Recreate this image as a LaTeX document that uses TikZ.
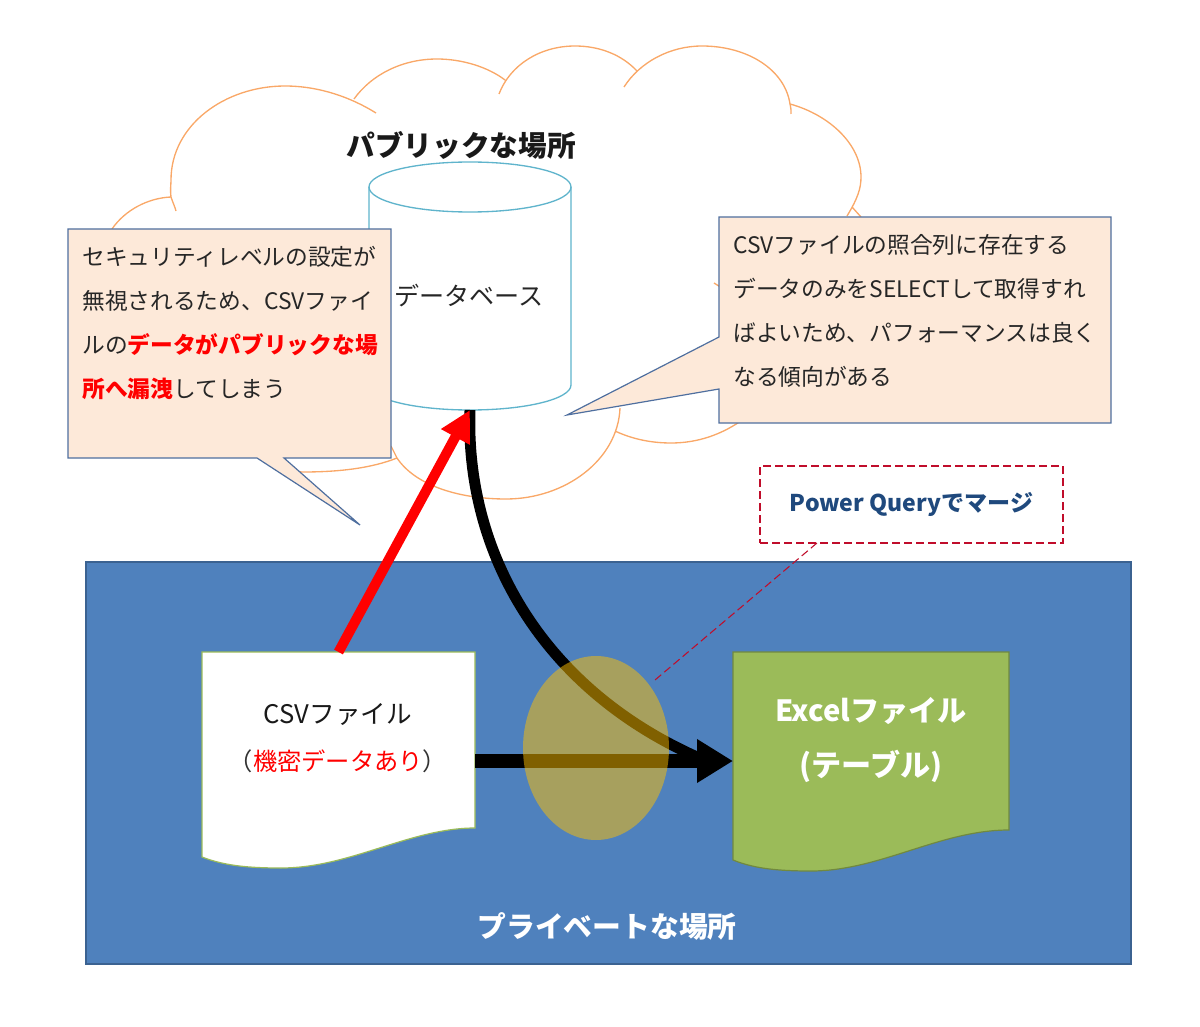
\documentclass[tikz,border=0pt]{standalone}
\usepackage{fontspec}
\setmainfont{Noto Sans CJK JP}
\usetikzlibrary{arrows.meta,shapes.geometric,calc}
\definecolor{cloudc}{HTML}{F9A868}
\definecolor{cylc}{HTML}{5FB4CC}
\definecolor{callfill}{HTML}{FDE9D9}
\definecolor{calledge}{HTML}{4F6F9F}
\definecolor{privblue}{HTML}{4F81BD}
\definecolor{privedge}{HTML}{3B6291}
\definecolor{greenf}{HTML}{9BBB59}
\definecolor{greene}{HTML}{71893F}
\definecolor{navy}{HTML}{1F497D}
\definecolor{pqred}{HTML}{C00D2B}
\definecolor{mergec}{HTML}{FFC000}
\tikzset{
  anchorbox/.style={inner sep=0pt,outer sep=0pt,rectangle},
  cloudline/.style={draw=cloudc,line width=1pt},
  callout/.style={fill=callfill,draw=calledge,line width=0.9pt,line join=miter},
  calltext/.style={align=left,inner sep=0pt,text=black!85,font=\fontsize{17.05}{33}\selectfont},
  heavy/.style={draw=black,line width=10.5pt},
  redflow/.style={draw=red,line width=7.5pt,-{Triangle[length=23pt,width=23pt]}},
  blackflow/.style={draw=black,line width=8.2pt},
  pqdash/.style={draw=pqred,dash pattern=on 6pt off 3pt,line width=0.8pt},
}
\begin{document}
\begin{tikzpicture}[x=0.75pt,y=-0.75pt]
\useasboundingbox (0,0) rectangle (1200,1027);
% cloud
\draw[cloudline]
 (112,229) .. controls (125,210) and (148,198) .. (171,197) .. controls (173,203) and (175,207) .. (176,211)
 (171,197) .. controls (170,190) and (171,185) .. (171,180) .. controls (171,125) and (225,86) .. (285,86) .. controls (320,86) and (352,98) .. (376,113)
 (354,99) .. controls (372,74) and (403,59) .. (437,59) .. controls (462,59) and (488,67) .. (505,80)
 (499,94) .. controls (510,65) and (540,46) .. (575,46) .. controls (600,46) and (622,55) .. (637,71)
 (624,87) .. controls (640,62) and (670,46) .. (702,46) .. controls (748,46) and (785,70) .. (790,104) .. controls (791,107) and (791,110) .. (791,114)
 (790,104) .. controls (830,115) and (861,145) .. (861,177) .. controls (861,188) and (858,198) .. (847,216)
 (852,207) -- (861,217)
 (714,283) -- (722,288)
 (745,418) .. controls (722,435) and (697,443) .. (671,443) .. controls (651,443) and (632,439) .. (615,431)
 (620,408) .. controls (618,460) and (565,499) .. (506,499) .. controls (458,499) and (415,485) .. (397,458) .. controls (395,454) and (393,450) .. (391,446)
 (280,468) .. controls (290,471) and (297,472) .. (303,472) .. controls (340,472) and (372,468) .. (397,458);
% database cylinder
\draw[draw=cylc,fill=white,line width=1pt]
 (369,187) -- (369,385) .. controls (369,399) and (414,410) .. (470,410) .. controls (526,410) and (571,399) .. (571,385) -- (571,187)
 .. controls (571,173) and (526,162) .. (470,162) .. controls (414,162) and (369,173) .. (369,187) -- cycle;
\draw[draw=cylc,line width=1pt]
 (369,187) .. controls (369,201) and (414,212) .. (470,212) .. controls (526,212) and (571,201) .. (571,187);
\node[anchorbox,minimum width=151.5pt,minimum height=186pt] (db) at (470,286) {};
\node[inner sep=0pt,font=\fontsize{18.8}{22}\selectfont,text=black!85] (dblabel) at (469,296) {データベース};
\node[inner sep=0pt,font=\bfseries\fontsize{21.5}{26}\selectfont,text=black!90] (pubtitle) at (461,145) {パブリックな場所};
% private area
\node[anchorbox,fill=privblue,draw=privedge,line width=0.9pt,minimum width=783.75pt,minimum height=301.5pt] (priv) at (608.5,763) {};
% documents
\node[anchorbox,minimum width=204.75pt,minimum height=163.5pt] (csv) at (338.5,761) {};
\node[anchorbox,minimum width=207pt,minimum height=163.5pt] (xl) at (871,761) {};
\draw[fill=white,draw=greenf,line width=0.9pt]
 (202,652) -- (475,652) -- (475,828) .. controls (410,828) and (350,868) .. (281,868) .. controls (250,868) and (225,866) .. (202,857) -- cycle;
\draw[fill=greenf,draw=greene,line width=0.9pt]
 (733,652) -- (1009,652) -- (1009,830) .. controls (940,830) and (880,871) .. (811,871) .. controls (780,871) and (755,869) .. (733,860) -- cycle;
% flows
\draw[blackflow] (db.south) .. controls (465,555) and (545,695) .. ($(xl.west)+(-22,2)$);
\draw[heavy,-{Triangle[length=27pt,width=31pt]}] (csv.east) -- (xl.west);
\draw[redflow] (csv.north) -- (db.south);
% merge ellipse
\node[ellipse,inner sep=0pt,fill=mergec,fill opacity=0.5,minimum width=109.5pt,minimum height=138pt] (merge) at (596,748) {};
% callouts
\draw[callout] (68,229) -- (391,229) -- (391,458) -- (284,458) -- (360,525) -- (257,458) -- (68,458) -- cycle;
\draw[callout] (719,217) -- (1111,217) -- (1111,423) -- (719,423) -- (719,389) -- (567,415) -- (719,337) -- cycle;
\node[calltext,anchor=west] (leftnote) at (82,323) {セキュリティレベルの設定が\\無視されるため、CSVファイ\\ルの{\bfseries\color{red}データがパブリックな場}\\{\bfseries\color{red}所へ漏洩}してしまう};
\node[calltext,anchor=west] (rightnote) at (733,311) {CSVファイルの照合列に存在する\\データのみをSELECTして取得すれ\\ばよいため、パフォーマンスは良く\\なる傾向がある};
% power query
\node[anchorbox,pqdash,minimum width=227.25pt,minimum height=57.75pt,text=navy,font=\bfseries\fontsize{17.3}{20}\selectfont] (pq) at (911.5,504.5) {Power Queryでマージ};
\coordinate (pqend) at (655,680);
\draw[pqdash] ($(pq.south west)!0.188!(pq.south east)$) -- (pqend);
% text in documents
\node[inner sep=0pt,font=\fontsize{19.2}{22}\selectfont,text=black!90] (csvname) at (338,714) {CSVファイル};
\node[inner sep=0pt,font=\fontsize{18.2}{22}\selectfont,text=black!80] (csvnote) at (338,761) {（{\color{red}機密データあり}）};
\node[inner sep=0pt,font=\bfseries\fontsize{21.9}{26}\selectfont,text=white] (xlname) at (871,711) {Excelファイル};
\node[inner sep=0pt,font=\bfseries\fontsize{22.6}{26}\selectfont,text=white] (xlnote) at (871,766) {(テーブル)};
\node[inner sep=0pt,font=\bfseries\fontsize{21.6}{26}\selectfont,text=white] (privtitle) at (607,926) {プライベートな場所};
\end{tikzpicture}
\end{document}
